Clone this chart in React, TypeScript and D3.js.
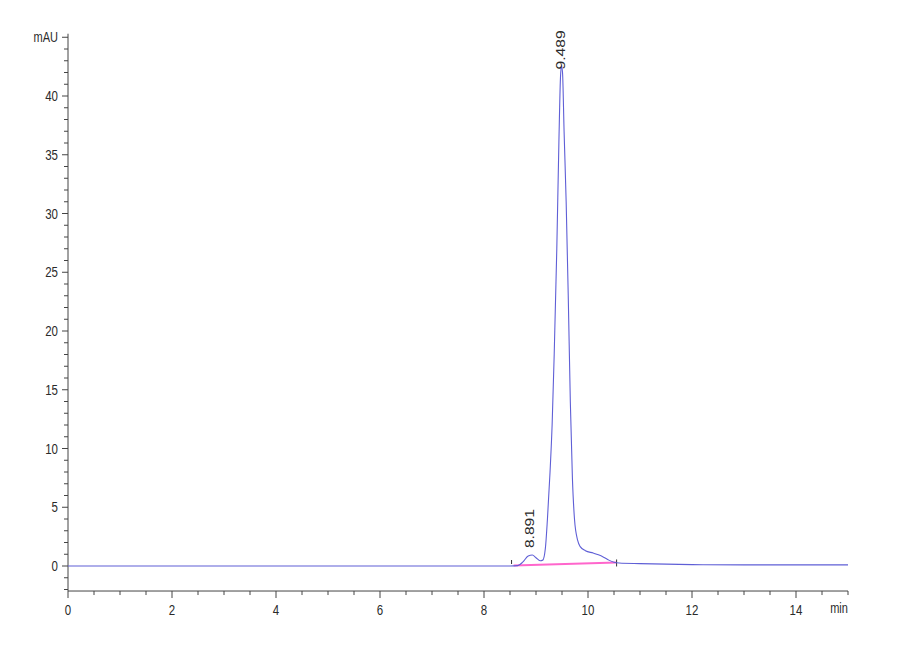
import * as React from 'react'
import { scaleLinear, line, curveMonotoneX, range } from 'd3'

// chromatogram trace (min, mAU)
const traceTime = [
  0, 1, 2, 3, 4, 5, 6, 7, 8, 8.5, 8.65, 8.75, 8.85, 8.93, 9.0, 9.08, 9.13, 9.18, 9.22, 9.27, 9.31,
  9.35, 9.4, 9.44, 9.47, 9.489, 9.51, 9.54, 9.58, 9.62, 9.66, 9.7, 9.74, 9.8, 9.85, 9.95, 10.1, 10.2,
  10.3, 10.4, 10.5, 10.6, 11, 12, 13, 14, 15,
]
const traceValue = [
  0, 0, 0, 0, 0, 0, 0, 0, 0, 0, 0.03, 0.35, 0.85, 0.93, 0.7, 0.45, 0.5, 1.5, 4, 8, 12,
  18, 27, 36, 41.5, 42.6, 42, 37, 31, 23, 14, 7.5, 4, 2.2, 1.65, 1.3, 1.1, 0.95,
  0.75, 0.5, 0.32, 0.25, 0.2, 0.12, 0.1, 0.1, 0.1,
]

const peakTimes = [8.891, 9.489]
const peakHeights = [0.93, 42.6]
const peakLabels = ['8.891', '9.489']

// integration baseline and its start / end markers
const baselineTimes = [8.57, 10.55]
const baselineValues = [0.05, 0.3]
const markerTimes = [8.53, 10.55]

const xTicks = [0, 2, 4, 6, 8, 10, 12, 14]
const yTicks = [0, 5, 10, 15, 20, 25, 30, 35, 40]

const xUnit = 'min'
const yUnit = 'mAU'

const traceColor = '#5f5fd6'
const axisColor = '#444'
const textColor = '#2a2a2a'
const font = 'Liberation Sans, Arial, sans-serif'
const stretch = 1.25

function Label({ x, y, children, anchor = 'middle', size = 11.5, rotate = false }: any) {
  const t = `translate(${x},${y}) scale(1,${rotate ? 1.3 : stretch})${rotate ? ' rotate(-90)' : ''}`
  return (
    <text transform={t} textAnchor={anchor} fontSize={size} fontFamily={font} fill={textColor}>
      {children}
    </text>
  )
}

export default function App() {
  const x = scaleLinear().domain([0, 15]).range([68, 848])
  const y = scaleLinear().domain([0, 40]).range([566, 96])
  const yTop = y(45.3)
  const yBottom = y(-2.13)

  const pts = traceTime.map((t, i) => [t, traceValue[i]] as [number, number])
  const path = line<[number, number]>()
    .x((d) => x(d[0]))
    .y((d) => y(d[1]))
    .curve(curveMonotoneX)(pts)

  const base = line<number>()
    .x((d, i) => x(baselineTimes[i]))
    .y((d) => y(d))(baselineValues)

  const yMinor = range(-2, 46, 1)
  const xMinor = range(0, 15.01, 0.5)
  const labelOffsets = [-7, 4]

  return (
    <svg width={900} height={660} style={{ position: 'absolute', left: 0, top: 0, background: '#fff' }}>
      {/* y axis */}
      <line x1={x(0)} x2={x(0)} y1={yTop} y2={yBottom} stroke={axisColor} strokeWidth={1} />
      {yMinor.map((v) => (
        <line key={'ym' + v} x1={x(0) - (v % 5 === 0 ? 6 : 4)} x2={x(0)} y1={y(v)} y2={y(v)} stroke={axisColor} strokeWidth={1} />
      ))}
      {yTicks.map((v) => (
        <Label key={'yt' + v} x={x(0) - 10} y={y(v) + 5} anchor="end">
          {v}
        </Label>
      ))}
      <Label x={x(0) - 10} y={y(45) + 5} anchor="end" size={11}>
        {yUnit}
      </Label>

      {/* x axis */}
      <line x1={x(0)} x2={x(15)} y1={yBottom} y2={yBottom} stroke={axisColor} strokeWidth={1} />
      {xMinor.map((v) => (
        <line key={'xm' + v} x1={x(v)} x2={x(v)} y1={yBottom} y2={yBottom + (v % 2 === 0 ? 7 : 4)} stroke={axisColor} strokeWidth={1} />
      ))}
      {xTicks.map((v) => (
        <Label key={'xt' + v} x={x(v)} y={yBottom + 24}>
          {v}
        </Label>
      ))}
      <Label x={x(15) - 9} y={yBottom + 22} size={11}>
        {xUnit}
      </Label>

      {/* integration baseline */}
      <path d={base ?? ''} fill="none" stroke="#ff66cc" strokeWidth={2} />
      <line x1={x(markerTimes[0])} x2={x(markerTimes[0])} y1={y(0) - 6} y2={y(0) - 2} stroke="#333" strokeWidth={1} />
      <line x1={x(markerTimes[1])} x2={x(markerTimes[1])} y1={y(0.3) - 3} y2={y(0.3) + 4} stroke="#333" strokeWidth={1} />

      {/* trace */}
      <path d={path ?? ''} fill="none" stroke={traceColor} strokeWidth={1.1} />

      {/* peak labels */}
      {peakTimes.map((t, i) => (
        <Label key={'pl' + i} x={x(t) + 4} y={y(peakHeights[i]) + labelOffsets[i]} anchor="start" size={12} rotate>
          {peakLabels[i]}
        </Label>
      ))}
    </svg>
  )
}
